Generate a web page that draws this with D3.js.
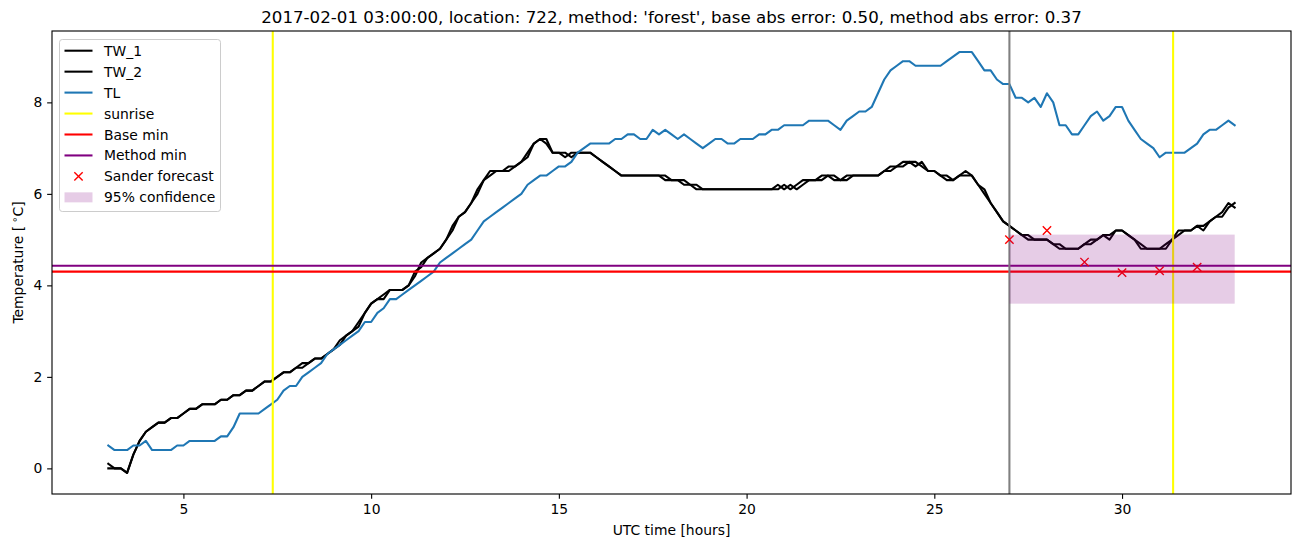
<!DOCTYPE html>
<html><head><meta charset="utf-8">
<script src="https://cdn.jsdelivr.net/npm/d3@7"></script>
<style>body{margin:0;background:#fff} svg{display:block} text{font-family:"DejaVu Sans",sans-serif;fill:#000}</style>
</head><body><svg id="c" width="1302" height="547"></svg>
<script>
// ---- data ----
const startHour = 3, stepHours = 1/6; // 10-minute samples
const TW_1 = [
0.1,0.0,0.0,-0.1,0.3,0.6,
0.8,0.9,1.0,1.0,1.1,1.1,
1.2,1.3,1.3,1.4,1.4,1.4,
1.5,1.5,1.6,1.6,1.7,1.7,
1.8,1.9,1.9,2.0,2.1,2.1,
2.2,2.3,2.3,2.4,2.4,2.5,
2.6,2.8,2.9,3.0,3.2,3.4,
3.6,3.7,3.8,3.9,3.9,3.9,
4.0,4.3,4.4,4.6,4.7,4.8,
5.0,5.3,5.5,5.6,5.8,6.0,
6.3,6.5,6.5,6.5,6.6,6.6,
6.7,6.9,7.1,7.2,7.1,6.9,
6.9,6.8,6.9,6.9,6.9,6.9,
6.8,6.7,6.6,6.5,6.4,6.4,
6.4,6.4,6.4,6.4,6.4,6.3,
6.3,6.3,6.2,6.2,6.2,6.1,
6.1,6.1,6.1,6.1,6.1,6.1,
6.1,6.1,6.1,6.1,6.1,6.1,
6.2,6.1,6.2,6.3,6.3,6.3,
6.4,6.4,6.3,6.3,6.4,6.4,
6.4,6.4,6.4,6.4,6.5,6.6,
6.6,6.7,6.7,6.7,6.6,6.5,
6.5,6.4,6.3,6.3,6.4,6.5,
6.4,6.2,6.0,5.8,5.6,5.4,
5.3,5.2,5.1,5.1,5.0,5.0,
5.0,4.9,4.9,4.8,4.8,4.8,
4.9,4.9,5.0,5.1,5.1,5.2,
5.2,5.1,5.0,4.9,4.8,4.8,
4.8,4.9,5.0,5.2,5.2,5.2,
5.3,5.3,5.4,5.5,5.6,5.8,
5.7];
const TW_2 = [
0.0,0.0,0.0,-0.1,0.3,0.6,
0.8,0.9,1.0,1.0,1.1,1.1,
1.2,1.3,1.3,1.4,1.4,1.4,
1.5,1.5,1.6,1.6,1.7,1.7,
1.8,1.9,1.9,2.0,2.1,2.1,
2.2,2.2,2.3,2.4,2.4,2.5,
2.6,2.7,2.9,3.0,3.1,3.4,
3.6,3.7,3.7,3.9,3.9,3.9,
4.0,4.2,4.5,4.6,4.7,4.8,
5.0,5.2,5.5,5.6,5.8,6.1,
6.3,6.4,6.5,6.5,6.5,6.6,
6.7,6.8,7.1,7.2,7.2,6.9,
6.9,6.9,6.8,6.9,6.9,6.9,
6.8,6.7,6.6,6.5,6.4,6.4,
6.4,6.4,6.4,6.4,6.4,6.4,
6.3,6.3,6.3,6.2,6.1,6.1,
6.1,6.1,6.1,6.1,6.1,6.1,
6.1,6.1,6.1,6.1,6.1,6.2,
6.1,6.2,6.1,6.2,6.3,6.3,
6.3,6.4,6.4,6.3,6.3,6.4,
6.4,6.4,6.4,6.4,6.5,6.5,
6.6,6.6,6.7,6.6,6.7,6.5,
6.5,6.4,6.4,6.3,6.4,6.4,
6.4,6.2,6.1,5.8,5.6,5.4,
5.3,5.2,5.1,5.0,5.0,5.0,
5.0,4.9,4.8,4.8,4.8,4.8,
4.9,5.0,5.0,5.1,5.0,5.2,
5.2,5.1,5.0,4.8,4.8,4.8,
4.8,4.8,5.0,5.1,5.2,5.2,
5.3,5.2,5.4,5.5,5.5,5.7,
5.8];
const TL = [
0.5,0.4,0.4,0.4,0.5,0.5,
0.6,0.4,0.4,0.4,0.4,0.5,
0.5,0.6,0.6,0.6,0.6,0.6,
0.7,0.7,0.9,1.2,1.2,1.2,
1.2,1.3,1.4,1.5,1.7,1.8,
1.8,2.0,2.1,2.2,2.3,2.5,
2.6,2.7,2.8,2.9,3.0,3.2,
3.2,3.4,3.5,3.7,3.7,3.8,
3.9,4.0,4.1,4.2,4.3,4.5,
4.6,4.7,4.8,4.9,5.0,5.2,
5.4,5.5,5.6,5.7,5.8,5.9,
6.0,6.2,6.3,6.4,6.4,6.5,
6.6,6.6,6.7,6.9,7.0,7.1,
7.1,7.1,7.1,7.2,7.2,7.3,
7.3,7.2,7.2,7.4,7.3,7.4,
7.3,7.2,7.3,7.2,7.1,7.0,
7.1,7.2,7.2,7.1,7.1,7.2,
7.2,7.2,7.3,7.3,7.4,7.4,
7.5,7.5,7.5,7.5,7.6,7.6,
7.6,7.6,7.5,7.4,7.6,7.7,
7.8,7.8,7.9,8.2,8.5,8.7,
8.8,8.9,8.9,8.8,8.8,8.8,
8.8,8.8,8.9,9.0,9.1,9.1,
9.1,8.9,8.7,8.7,8.5,8.4,
8.4,8.1,8.1,8.0,8.1,7.9,
8.2,8.0,7.5,7.5,7.3,7.3,
7.5,7.7,7.8,7.6,7.7,7.9,
7.9,7.6,7.4,7.2,7.1,7.0,
6.8,6.9,6.9,6.9,6.9,7.0,
7.1,7.3,7.4,7.4,7.5,7.6,
7.5];
const sunriseHours = [7.38, 31.36];
const baseMin = 4.30;
const methodMin = 4.43;
const nowHour = 27;
const forecastHours = [27, 28, 29, 30, 31, 32];
const forecastValues = [5.0, 5.2, 4.51, 4.28, 4.32, 4.4];
const confHours = [27, 33];
const confLow = 3.6, confHigh = 5.11;
const xTicks = [5, 10, 15, 20, 25, 30];
const yTicks = [0, 2, 4, 6, 8];
const legendLabels = ["TW_1","TW_2","TL","sunrise","Base min","Method min","Sander forecast","95% confidence"];
const titleText = "2017-02-01 03:00:00, location: 722, method: 'forest', base abs error: 0.50, method abs error: 0.37";

// ---- layout ----
const W = 1302, H = 547;
const L = 52, R = 1291, T = 31, B = 494;
const LW = 2.08; // 1.5pt at 100 dpi
const svg = d3.select("#c");

const hours = TL.map((_, i) => startHour + i * stepHours);
const xExt = d3.extent(hours);
const allY = TW_1.concat(TW_2, TL);
const yExt = d3.extent(allY);
const xp = (xExt[1]-xExt[0])*0.05, yp = (yExt[1]-yExt[0])*0.05;
const x = d3.scaleLinear().domain([xExt[0]-xp, xExt[1]+xp]).range([L, R]);
const y = d3.scaleLinear().domain([yExt[0]-yp, yExt[1]+yp]).range([B, T]);

svg.append("defs").append("clipPath").attr("id","pa")
  .append("rect").attr("x",L).attr("y",T).attr("width",R-L).attr("height",B-T);
const g = svg.append("g").attr("clip-path","url(#pa)");

const line = d3.line().x((d,i)=>x(hours[i])).y(d=>y(d));
function drawSeries(arr, color){
  g.append("path").datum(arr).attr("d", line).attr("fill","none")
   .attr("stroke", color).attr("stroke-width",LW)
   .attr("stroke-linejoin","round").attr("stroke-linecap","square");
}
drawSeries(TW_1, "#000000");
drawSeries(TW_2, "#000000");
drawSeries(TL, "#1f77b4");

// sunrise
sunriseHours.forEach(h => {
  g.append("line").attr("x1",x(h)).attr("x2",x(h)).attr("y1",T).attr("y2",B)
   .attr("stroke","#ffff00").attr("stroke-width",LW);
});
// base / method min
g.append("line").attr("x1",L).attr("x2",R).attr("y1",y(baseMin)).attr("y2",y(baseMin))
 .attr("stroke","#ff0000").attr("stroke-width",LW);
g.append("line").attr("x1",L).attr("x2",R).attr("y1",y(methodMin)).attr("y2",y(methodMin))
 .attr("stroke","#800080").attr("stroke-width",LW);
// now line
g.append("line").attr("x1",x(nowHour)).attr("x2",x(nowHour)).attr("y1",T).attr("y2",B)
 .attr("stroke","#808080").attr("stroke-width",LW);
// forecast markers
const ms = 4.17;
function xMarker(sel, cx, cy){
  sel.append("path").attr("d",`M${cx-ms},${cy-ms}L${cx+ms},${cy+ms}M${cx-ms},${cy+ms}L${cx+ms},${cy-ms}`)
   .attr("stroke","#ff0000").attr("stroke-width",1.39).attr("fill","none");
}
forecastHours.forEach((h,i)=> xMarker(g, x(h), y(forecastValues[i])));
// confidence
g.append("rect").attr("x",x(confHours[0])).attr("width",x(confHours[1])-x(confHours[0]))
 .attr("y",y(confHigh)).attr("height",y(confLow)-y(confHigh))
 .attr("fill","#800080").attr("fill-opacity",0.2);

// ---- axes ----
const tl = 4.86;
const xa = svg.append("g").attr("transform",`translate(0,${B})`)
  .call(d3.axisBottom(x).tickValues(xTicks).tickFormat(d3.format("d")).tickSize(tl).tickPadding(4.86).tickSizeOuter(0));
const ya = svg.append("g").attr("transform",`translate(${L},0)`)
  .call(d3.axisLeft(y).tickValues(yTicks).tickFormat(d3.format("d")).tickSize(tl).tickPadding(4.86).tickSizeOuter(0));
[xa, ya].forEach(a => {
  a.select(".domain").remove();
  a.selectAll("line").attr("stroke","#000").attr("stroke-width",1.11);
  a.selectAll("text").attr("font-size","13.9px").attr("font-family","DejaVu Sans").attr("fill","#000");
});
svg.append("rect").attr("x",L).attr("y",T).attr("width",R-L).attr("height",B-T)
  .attr("fill","none").attr("stroke","#000").attr("stroke-width",1.11);

// labels
svg.append("text").attr("x",(L+R)/2).attr("y",23).attr("text-anchor","middle")
  .attr("font-size","16.67px").text(titleText);
svg.append("text").attr("x",(L+R)/2).attr("y",535).attr("text-anchor","middle")
  .attr("font-size","13.9px").text("UTC time [hours]");
const yl = svg.append("text").attr("transform",`translate(23,${(T+B)/2}) rotate(-90)`)
  .attr("text-anchor","middle").attr("font-size","13.9px");
yl.append("tspan").text("Temperature [");
yl.append("tspan").attr("dx",3).attr("dy",-5).attr("font-size","10px").text("∘");
yl.append("tspan").attr("dy",5).text("C]");

// ---- legend ----
const lg = svg.append("g");
lg.append("rect").attr("x",59.5).attr("y",39.5).attr("width",161).attr("height",172).attr("rx",2.8)
  .attr("fill","#fff").attr("fill-opacity",0.8).attr("stroke","#cccccc").attr("stroke-width",1);
const legColors = ["#000000","#000000","#1f77b4","#ffff00","#ff0000","#800080"];
legendLabels.forEach((lab,i)=>{
  const cy = 50.7 + i*20.95;
  if (i < 6) {
    lg.append("line").attr("x1",64.5).attr("x2",92.5).attr("y1",cy).attr("y2",cy)
      .attr("stroke",legColors[i]).attr("stroke-width",LW);
  } else if (i === 6) {
    xMarker(lg, 78.5, cy);
  } else {
    lg.append("rect").attr("x",64.5).attr("y",cy-5).attr("width",28).attr("height",10)
      .attr("fill","#800080").attr("fill-opacity",0.2);
  }
  lg.append("text").attr("x",104).attr("y",cy).attr("dy","0.36em").attr("font-size","13.9px").text(lab);
});
</script></body></html>
